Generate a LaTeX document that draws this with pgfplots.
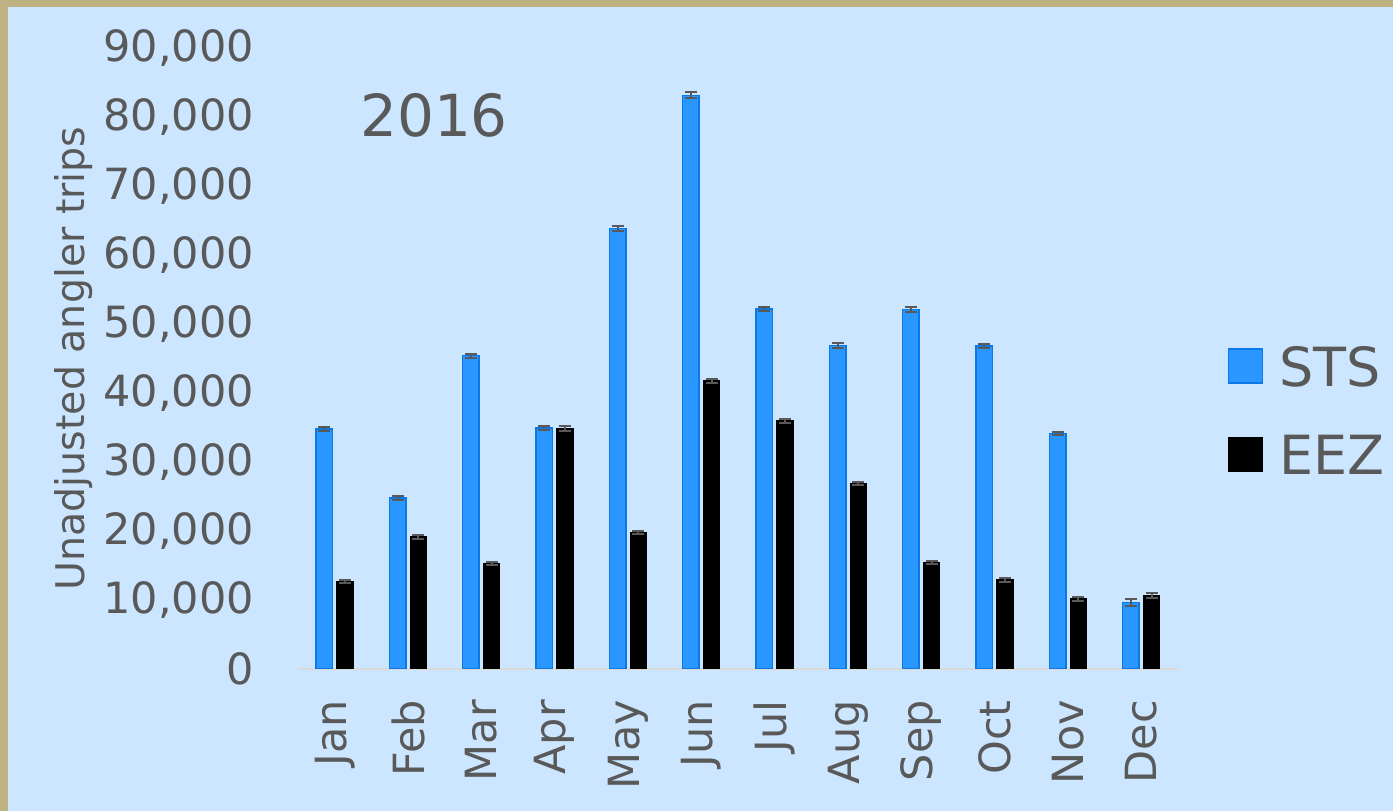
\documentclass[border=0pt]{standalone}
\usepackage{pgfplots}
\pgfplotsset{compat=1.18}
\usepackage{pgfplotstable}
\usepackage{fontspec}
\setmainfont{DejaVu Sans}
\definecolor{bgblue}{HTML}{CCE6FF}
\definecolor{beige}{HTML}{BEB283}
\definecolor{stsblue}{HTML}{2997FF}
\definecolor{stsedge}{HTML}{0A78E6}
\definecolor{txtgray}{HTML}{595959}
\definecolor{axgray}{HTML}{D9D9D9}

\pgfplotstableread{
x sts stserr eez eezerr
0 34800 300 12700 250
1 24800 300 19150 300
2 45400 300 15250 250
3 34950 300 34850 300
4 63850 300 19750 250
5 83150 430 41800 300
6 52200 300 36000 300
7 46900 400 26900 250
8 52100 300 15400 250
9 46800 300 12900 250
10 34100 250 10150 250
11 9650 450 10650 420
}\datatable

\begin{document}
\begin{tikzpicture}
\fill[bgblue] (0,0) rectangle (1393pt,811pt);
\fill[beige] (0,0) rectangle (8pt,811pt);
\fill[beige] (0,804pt) rectangle (1393pt,811pt);
\begin{axis}[
  at={(298pt,142pt)}, anchor=south west,
  scale only axis, width=880pt, height=621pt,
  xmin=-0.5, xmax=11.5, ymin=0, ymax=90000,
  ybar=4.3pt, bar width=16.5pt,
  xtick=data,
  xticklabels={Jan,Feb,Mar,Apr,May,Jun,Jul,Aug,Sep,Oct,Nov,Dec},
  ytick={0,10000,...,90000},
  axis lines*=left,
  axis line style={-},
  x axis line style={draw=axgray, line width=2pt},
  y axis line style={draw=none},
  major tick length=0pt,
  tick style={draw=none},
  scaled y ticks=false,
  /pgf/number format/fixed,
  /pgf/number format/1000 sep={,},
  /pgf/number format/assume math mode=true,
  ticklabel style={font=\fontsize{43}{50}\selectfont, text=txtgray, inner sep=0pt},
  yticklabel shift=44pt,
  xticklabel style={rotate=90, anchor=east},
  xticklabel shift=31pt,
  ylabel={Unadjusted angler trips},
  ylabel style={font=\fontsize{39.5}{46}\selectfont, text=txtgray, inner sep=0pt,
    at={(axis description cs:-0.2335,0.5)}, anchor=south},
  legend style={at={(1.0568,0.520)}, anchor=north west, draw=none, fill=none,
    inner sep=0pt, outer sep=0pt, row sep=48.5pt, column sep=16pt,
    font=\fontsize{54}{60}\selectfont, text=txtgray,
    nodes={inner sep=0pt, text height=40pt, text depth=0pt}},
  legend cell align=left,
  legend image code/.code={\draw[#1] (0pt,-17pt) rectangle (34pt,17pt);},
]
\addplot[fill=stsblue, draw=stsedge, line width=1.5pt,
  error bars/.cd, y dir=both, y explicit,
  error bar style={line width=2pt, txtgray},
  error mark options={rotate=90, line width=2pt, txtgray, mark size=6pt}]
  table[x=x, y=sts, y error=stserr]{\datatable};
\addlegendentry{STS}
\addplot[fill=black, draw=black, line width=1pt,
  error bars/.cd, y dir=both, y explicit,
  error bar style={line width=2pt, txtgray},
  error mark options={rotate=90, line width=2pt, txtgray, mark size=6pt}]
  table[x=x, y=eez, y error=eezerr]{\datatable};
\addlegendentry{EEZ}
\node[anchor=base west, inner sep=0pt, font=\fontsize{58}{66}\selectfont, text=txtgray]
  at (rel axis cs:0.0705,0.858) {2016};
\end{axis}
\pgfresetboundingbox
\useasboundingbox (0,0) rectangle (1393pt,811pt);
\end{tikzpicture}
\end{document}
